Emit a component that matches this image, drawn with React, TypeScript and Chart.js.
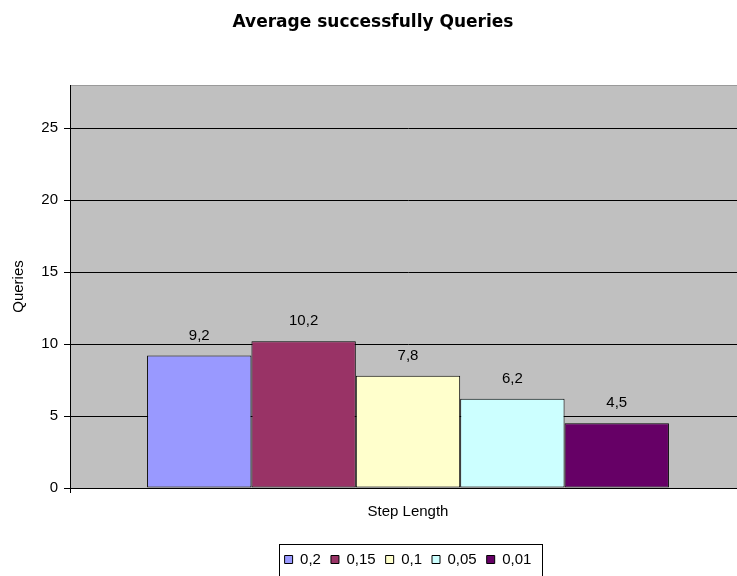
import { useEffect, useRef } from "react";
import { Chart, registerables } from "chart.js";

Chart.register(...registerables);

// Chart data
const categories = [""];
const seriesLabels = ["0,2", "0,15", "0,1", "0,05", "0,01"];
const seriesValues = [9.2, 10.2, 7.8, 6.2, 4.5];
const seriesColors = ["#9999FF", "#993366", "#FFFFCC", "#CCFFFF", "#660066"];
const yTickValues = [0, 5, 10, 15, 20, 25];
const yMax = 28;

const FONT = "'Liberation Sans', Arial, sans-serif";
const TITLE_FONT = "'DejaVu Sans', 'Liberation Sans', Arial, sans-serif";

const formatValue = (v: number) => v.toFixed(1).replace(".", ",");

// Grey plot background with a soft top edge
const plotBackground = {
  id: "plotBackground",
  beforeDraw(chart: any) {
    const { ctx, chartArea } = chart;
    ctx.save();
    ctx.fillStyle = "#C0C0C0";
    ctx.fillRect(chartArea.left, chartArea.top, chartArea.right - chartArea.left, chartArea.bottom - chartArea.top);
    ctx.strokeStyle = "#9A9A9A";
    ctx.lineWidth = 1;
    ctx.beginPath();
    ctx.moveTo(chartArea.left, Math.round(chartArea.top) + 0.5);
    ctx.lineTo(chartArea.right, Math.round(chartArea.top) + 0.5);
    ctx.stroke();
    ctx.restore();
  },
};

// Value labels above each bar
const valueLabels = {
  id: "valueLabels",
  afterDatasetsDraw(chart: any) {
    const { ctx } = chart;
    ctx.save();
    ctx.font = `15px ${FONT}`;
    ctx.fillStyle = "#000";
    ctx.textAlign = "center";
    ctx.textBaseline = "alphabetic";
    chart.data.datasets.forEach((ds: any, i: number) => {
      const meta = chart.getDatasetMeta(i);
      meta.data.forEach((bar: any, j: number) => {
        ctx.fillText(formatValue(ds.data[j]), bar.x, bar.y - 16);
      });
    });
    ctx.restore();
  },
};

// Frame around the legend entries
const legendFrame = {
  id: "legendFrame",
  afterDraw(chart: any) {
    const boxes = chart.legend?.legendHitBoxes;
    if (!boxes || !boxes.length) return;
    const left = Math.min(...boxes.map((b: any) => b.left)) - 6;
    const right = Math.max(...boxes.map((b: any) => b.left + b.width)) + 10;
    const top = Math.min(...boxes.map((b: any) => b.top)) - 8;
    const bottom = Math.max(...boxes.map((b: any) => b.top + b.height)) + 12;
    const { ctx } = chart;
    ctx.save();
    ctx.strokeStyle = "#000";
    ctx.lineWidth = 1;
    ctx.strokeRect(Math.round(left) + 0.5, Math.round(top) + 0.5, Math.round(right - left), Math.round(bottom - top));
    ctx.restore();
  },
};

export default function App() {
  const canvasRef = useRef<HTMLCanvasElement | null>(null);

  useEffect(() => {
    if (!canvasRef.current) return;
    const chart = new Chart(canvasRef.current, {
      type: "bar",
      data: {
        labels: categories,
        datasets: seriesLabels.map((label, i) => ({
          label,
          data: [seriesValues[i]],
          backgroundColor: seriesColors[i],
          borderColor: "#000",
          borderWidth: 1,
          borderSkipped: false,
          categoryPercentage: 0.772,
          barPercentage: 1,
        })),
      },
      options: {
        responsive: false,
        animation: false,
        layout: { padding: { left: 0, right: 4, top: 0, bottom: 13 } },
        plugins: {
          title: {
            display: true,
            text: "Average successfully Queries",
            color: "#000",
            font: { family: TITLE_FONT, size: 17, weight: "bold" },
            padding: { top: 12, bottom: 52.6 },
          },
          legend: {
            position: "bottom",
            fullSize: false,
            labels: {
              boxWidth: 8,
              boxHeight: 8,
              padding: 10,
              color: "#000",
              font: { family: FONT, size: 15 },
              generateLabels: () =>
                seriesLabels.map((label, i) => ({
                  text: label,
                  fillStyle: seriesColors[i],
                  strokeStyle: "#000",
                  lineWidth: 1,
                  hidden: false,
                  datasetIndex: i,
                })),
            },
          },
          tooltip: { enabled: false },
        },
        scales: {
          x: {
            afterFit: (scale: any) => {
              scale.height = 54;
            },
            grid: {
              display: true,
              offset: true,
              drawOnChartArea: false,
              drawTicks: true,
              tickLength: 5,
              color: "#000",
            },
            border: { display: true, color: "#000", width: 1 },
            ticks: { display: true, font: { family: FONT, size: 15 } },
            title: {
              display: true,
              text: "Step Length",
              color: "#000",
              font: { family: FONT, size: 15 },
              padding: { top: 4, bottom: 21 },
            },
          },
          y: {
            min: 0,
            max: yMax,
            afterBuildTicks: (scale: any) => {
              scale.ticks = yTickValues.map((value) => ({ value }));
            },
            afterFit: (scale: any) => {
              scale.width = 70;
            },
            grid: {
              color: "#000",
              lineWidth: 1,
              drawTicks: true,
              tickLength: 6,
            },
            border: { display: true, color: "#000", width: 1 },
            ticks: {
              color: "#000",
              padding: 6,
              font: { family: FONT, size: 15 },
            },
            title: {
              display: true,
              text: "Queries",
              color: "#000",
              font: { family: FONT, size: 15 },
              padding: { top: 10, bottom: 0 },
            },
          },
        },
      },
      plugins: [plotBackground, valueLabels, legendFrame],
    });
    return () => chart.destroy();
  }, []);

  return (
    <div style={{ position: "absolute", left: 0, top: 0, width: 737, height: 576, overflow: "hidden", background: "#fff" }}>
      <canvas ref={canvasRef} width={750} height={590} style={{ display: "block" }} />
    </div>
  );
}
